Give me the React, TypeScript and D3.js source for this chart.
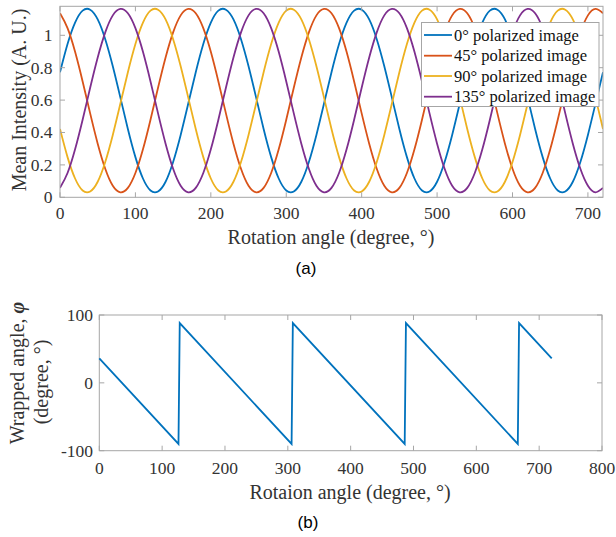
import React from "react";
import * as d3 from "d3";

// ---------- DATA ----------
const rotationAngles = [
  0, 10, 20, 30, 40, 50, 60, 70, 80, 90, 100, 110, 120, 130, 140, 150, 160, 170,
  180, 190, 200, 210, 220, 230, 240, 250, 260, 270, 280, 290, 300, 310, 320, 330, 340, 350,
  360, 370, 380, 390, 400, 410, 420, 430, 440, 450, 460, 470, 480, 490, 500, 510, 520, 530,
  540, 550, 560, 570, 580, 590, 600, 610, 620, 630, 640, 650, 660, 670, 680, 690, 700, 710,
  720,
];

const pol0 = [
  0.772, 0.946, 1.078, 1.152, 1.158, 1.098, 0.976, 0.809, 0.617, 0.422, 0.248, 0.116, 0.042, 0.036, 0.096, 0.218, 0.385, 0.577,
  0.772, 0.946, 1.078, 1.152, 1.158, 1.098, 0.976, 0.809, 0.617, 0.422, 0.248, 0.116, 0.042, 0.036, 0.096, 0.218, 0.385, 0.577,
  0.772, 0.946, 1.078, 1.152, 1.158, 1.098, 0.976, 0.809, 0.617, 0.422, 0.248, 0.116, 0.042, 0.036, 0.096, 0.218, 0.385, 0.577,
  0.772, 0.946, 1.078, 1.152, 1.158, 1.098, 0.976, 0.809, 0.617, 0.422, 0.248, 0.116, 0.042, 0.036, 0.096, 0.218, 0.385, 0.577,
  0.772,
];
const pol45 = [
  1.136, 1.044, 0.898, 0.715, 0.518, 0.331, 0.176, 0.071, 0.031, 0.058, 0.150, 0.296, 0.479, 0.676, 0.863, 1.018, 1.123, 1.163,
  1.136, 1.044, 0.898, 0.715, 0.518, 0.331, 0.176, 0.071, 0.031, 0.058, 0.150, 0.296, 0.479, 0.676, 0.863, 1.018, 1.123, 1.163,
  1.136, 1.044, 0.898, 0.715, 0.518, 0.331, 0.176, 0.071, 0.031, 0.058, 0.150, 0.296, 0.479, 0.676, 0.863, 1.018, 1.123, 1.163,
  1.136, 1.044, 0.898, 0.715, 0.518, 0.331, 0.176, 0.071, 0.031, 0.058, 0.150, 0.296, 0.479, 0.676, 0.863, 1.018, 1.123, 1.163,
  1.136,
];
const pol90 = [
  0.422, 0.248, 0.116, 0.042, 0.036, 0.096, 0.218, 0.385, 0.577, 0.772, 0.946, 1.078, 1.152, 1.158, 1.098, 0.976, 0.809, 0.617,
  0.422, 0.248, 0.116, 0.042, 0.036, 0.096, 0.218, 0.385, 0.577, 0.772, 0.946, 1.078, 1.152, 1.158, 1.098, 0.976, 0.809, 0.617,
  0.422, 0.248, 0.116, 0.042, 0.036, 0.096, 0.218, 0.385, 0.577, 0.772, 0.946, 1.078, 1.152, 1.158, 1.098, 0.976, 0.809, 0.617,
  0.422, 0.248, 0.116, 0.042, 0.036, 0.096, 0.218, 0.385, 0.577, 0.772, 0.946, 1.078, 1.152, 1.158, 1.098, 0.976, 0.809, 0.617,
  0.422,
];
const pol135 = [
  0.058, 0.150, 0.296, 0.479, 0.676, 0.863, 1.018, 1.123, 1.163, 1.136, 1.044, 0.898, 0.715, 0.518, 0.331, 0.176, 0.071, 0.031,
  0.058, 0.150, 0.296, 0.479, 0.676, 0.863, 1.018, 1.123, 1.163, 1.136, 1.044, 0.898, 0.715, 0.518, 0.331, 0.176, 0.071, 0.031,
  0.058, 0.150, 0.296, 0.479, 0.676, 0.863, 1.018, 1.123, 1.163, 1.136, 1.044, 0.898, 0.715, 0.518, 0.331, 0.176, 0.071, 0.031,
  0.058, 0.150, 0.296, 0.479, 0.676, 0.863, 1.018, 1.123, 1.163, 1.136, 1.044, 0.898, 0.715, 0.518, 0.331, 0.176, 0.071, 0.031,
  0.058,
];

const seriesNames = [
  "0° polarized image",
  "45° polarized image",
  "90° polarized image",
  "135° polarized image",
];
const seriesColors = ["#0072BD", "#D95319", "#EDB120", "#7E2F8E"];

const topXTicks = [0, 100, 200, 300, 400, 500, 600, 700];
const topYTicks = [0, 0.2, 0.4, 0.6, 0.8, 1];

// wrapped angle (bottom panel)
const wrapX = [0, 126, 128, 306, 308, 486, 488, 666, 668, 720];
const wrapY = [36, -90, 88, -90, 88, -90, 88, -90, 88, 36];
const botXTicks = [0, 100, 200, 300, 400, 500, 600, 700, 800];
const botYTicks = [-100, 0, 100];

// ---------- LAYOUT ----------
const W = 616;
const H = 537;
const serif = "'Liberation Serif', 'DejaVu Serif', serif";
const sans = "'Liberation Sans', 'Open Sans', sans-serif";
const axisColor = "#a6a6a6";
const textColor = "#333333";
const TICK = 5;
const tickFont = 17.5;
const labelFont = 20;

export default function App() {
  // top panel
  const tL = 60, tR = 603, tT = 6.3, tB = 197.3;
  const x1 = d3.scaleLinear().domain([0, 720]).range([tL, tR]);
  const y1 = d3.scaleLinear().domain([0, 1.179]).range([tB, tT]);
  const series = [pol0, pol45, pol90, pol135];
  const line1 = d3
    .line<number>()
    .x((_, i) => x1(rotationAngles[i]))
    .y((d) => y1(d))
    .curve(d3.curveNatural);

  // bottom panel
  const bL = 99.3, bR = 602, bT = 315, bB = 450.7;
  const x2 = d3.scaleLinear().domain([0, 800]).range([bL, bR]);
  const y2 = d3.scaleLinear().domain([-100, 100]).range([bB, bT]);
  const line2 = d3
    .line<number>()
    .x((_, i) => x2(wrapX[i]))
    .y((d) => y2(d));

  const legendRows = [35, 55.7, 76, 96.7];

  return (
    <svg width={W} height={H} style={{ position: "absolute", left: 0, top: 0, background: "#fff" }}>
      <rect x={0} y={0} width={W} height={H} fill="#fff" />
      {/* ---------- top panel ---------- */}
      <g>
        <defs>
          <clipPath id="clipTop">
            <rect x={tL} y={tT} width={tR - tL} height={tB - tT} />
          </clipPath>
        </defs>
        <g clipPath="url(#clipTop)">
          {series.map((s, k) => (
            <path key={k} d={line1(s) || ""} fill="none" stroke={seriesColors[k]} strokeWidth={1.8} />
          ))}
        </g>
        <rect x={tL} y={tT} width={tR - tL} height={tB - tT} fill="none" stroke={axisColor} strokeWidth={1} />
        {topXTicks.map((t) => (
          <g key={"tx" + t}>
            <line x1={x1(t)} x2={x1(t)} y1={tB} y2={tB - TICK} stroke={axisColor} />
            <line x1={x1(t)} x2={x1(t)} y1={tT} y2={tT + TICK} stroke={axisColor} />
            <text x={x1(t)} y={219} textAnchor="middle" fontFamily={serif} fontSize={tickFont} fill={textColor}>
              {t}
            </text>
          </g>
        ))}
        {topYTicks.map((t) => (
          <g key={"ty" + t}>
            <line x1={tL} x2={tL + TICK} y1={y1(t)} y2={y1(t)} stroke={axisColor} />
            <line x1={tR} x2={tR - TICK} y1={y1(t)} y2={y1(t)} stroke={axisColor} />
            <text x={52.5} y={y1(t) + 6} textAnchor="end" fontFamily={serif} fontSize={tickFont} fill={textColor}>
              {d3.format("~g")(t)}
            </text>
          </g>
        ))}
        <text x={331} y={244} textAnchor="middle" fontFamily={serif} fontSize={labelFont} fill={textColor}>
          Rotation angle (degree, °)
        </text>
        <text
          transform={`translate(26,100) rotate(-90)`}
          textAnchor="middle"
          fontFamily={serif}
          fontSize={labelFont}
          fill={textColor}
        >
          Mean Intensity (A. U.)
        </text>
        {/* legend */}
        <rect x={421.5} y={22.5} width={177.5} height={84} fill="#fff" stroke={axisColor} strokeWidth={1} />
        {seriesNames.map((n, k) => (
          <g key={n}>
            <line x1={424} x2={452} y1={legendRows[k]} y2={legendRows[k]} stroke={seriesColors[k]} strokeWidth={1.8} />
            <text x={454} y={legendRows[k] + 5.5} fontFamily={serif} fontSize={16.5} fill="#111">
              {n}
            </text>
          </g>
        ))}
        <text x={306} y={274} textAnchor="middle" fontFamily={sans} fontSize={17} fill="#000">
          (a)
        </text>
      </g>

      {/* ---------- bottom panel ---------- */}
      <g>
        <rect x={bL} y={bT} width={bR - bL} height={bB - bT} fill="none" stroke={axisColor} strokeWidth={1} />
        <path d={line2(wrapY) || ""} fill="none" stroke={seriesColors[0]} strokeWidth={1.8} />
        {botXTicks.map((t) => (
          <g key={"bx" + t}>
            <line x1={x2(t)} x2={x2(t)} y1={bB} y2={bB - TICK} stroke={axisColor} />
            <line x1={x2(t)} x2={x2(t)} y1={bT} y2={bT + TICK} stroke={axisColor} />
            <text x={x2(t)} y={474} textAnchor="middle" fontFamily={serif} fontSize={tickFont} fill={textColor}>
              {t}
            </text>
          </g>
        ))}
        {botYTicks.map((t) => (
          <g key={"by" + t}>
            <line x1={bL} x2={bL + TICK} y1={y2(t)} y2={y2(t)} stroke={axisColor} />
            <line x1={bR} x2={bR - TICK} y1={y2(t)} y2={y2(t)} stroke={axisColor} />
            <text x={93} y={y2(t) + 6} textAnchor="end" fontFamily={serif} fontSize={tickFont} fill={textColor}>
              {t}
            </text>
          </g>
        ))}
        <text x={350} y={499} textAnchor="middle" fontFamily={serif} fontSize={labelFont} fill={textColor}>
          Rotaion angle (degree, °)
        </text>
        <text
          transform={`translate(24,373) rotate(-90)`}
          textAnchor="middle"
          fontFamily={serif}
          fontSize={labelFont}
          fill={textColor}
        >
          Wrapped angle,{" "}
          <tspan fontStyle="italic" fontWeight="bold">φ</tspan>
        </text>
        <text
          transform={`translate(48,382) rotate(-90)`}
          textAnchor="middle"
          fontFamily={serif}
          fontSize={labelFont}
          fill={textColor}
        >
          (degree, °)
        </text>
        <text x={308} y={528} textAnchor="middle" fontFamily={sans} fontSize={17} fill="#000">
          (b)
        </text>
      </g>
    </svg>
  );
}
